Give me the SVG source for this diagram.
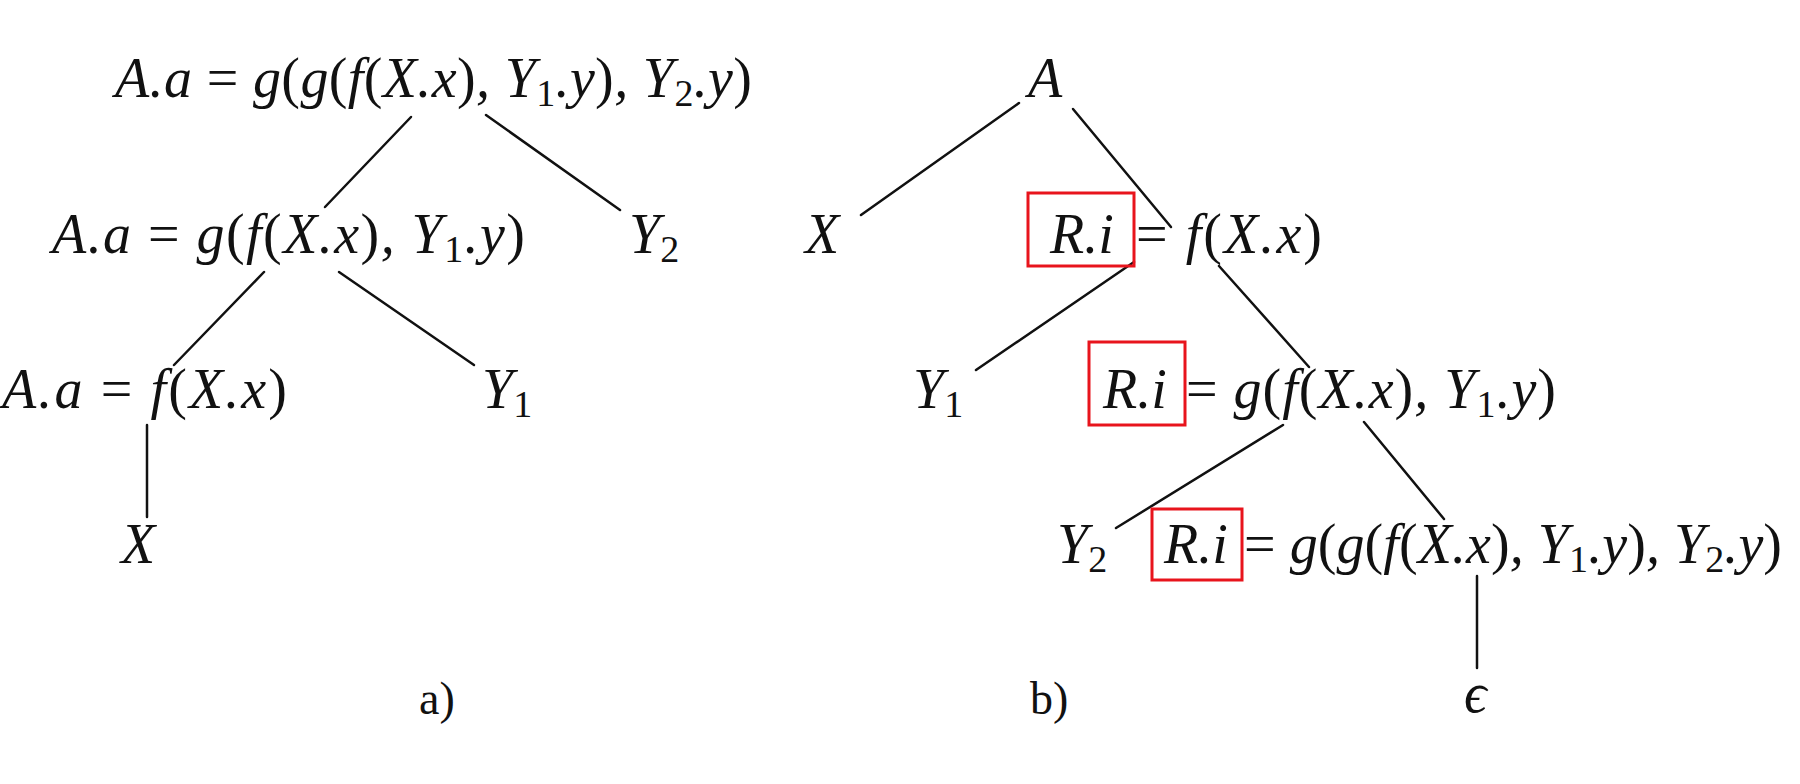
<svg xmlns="http://www.w3.org/2000/svg" width="1800" height="784" viewBox="0 0 1800 784">
<style>
.t { font-family: "Liberation Serif", "DejaVu Serif", serif; font-size: 56px; font-style: italic; fill: #111; }
.u { font-style: normal; }
.s { font-size: 38px; font-style: normal; }
.r { text-anchor: middle; }
.lbl { font-family: "Liberation Serif", "DejaVu Serif", serif; font-size: 46px; fill: #111; }
.e { stroke: #111; stroke-width: 2.5; fill: none; stroke-linecap: round; }
.box { stroke: #e8141c; stroke-width: 3; fill: none; }
</style>
<rect width="1800" height="784" fill="#fff"/>
<g id="connectors">
  <line class="e" x1="411" y1="117" x2="325" y2="207"/>
  <line class="e" x1="486" y1="115" x2="620" y2="210"/>
  <line class="e" x1="264" y1="272" x2="174" y2="365"/>
  <line class="e" x1="339" y1="272" x2="474" y2="365"/>
  <line class="e" x1="147" y1="425" x2="147" y2="517"/>
  <line class="e" x1="1019" y1="103" x2="861" y2="215"/>
  <line class="e" x1="1073" y1="109" x2="1171" y2="227"/>
  <line class="e" x1="1134" y1="262" x2="976" y2="370"/>
  <line class="e" x1="1219" y1="266" x2="1309" y2="367"/>
  <line class="e" x1="1283" y1="425" x2="1116" y2="528"/>
  <line class="e" x1="1364" y1="422" x2="1444" y2="519"/>
  <line class="e" x1="1477" y1="576" x2="1477" y2="668"/>
</g>
<g id="a-root"><text class="t" x="115" y="97" textLength="637" lengthAdjust="spacing">A.a <tspan class="u">=</tspan> g<tspan class="u">(</tspan>g<tspan class="u">(</tspan>f<tspan class="u">(</tspan>X.x<tspan class="u">)</tspan>, Y<tspan class="s" dy="9">1</tspan><tspan dy="-9">.y</tspan><tspan class="u">)</tspan>, Y<tspan class="s" dy="9">2</tspan><tspan dy="-9">.y</tspan><tspan class="u">)</tspan></text></g>
<g id="a-mid"><text class="t" x="52" y="253" textLength="473" lengthAdjust="spacing">A.a <tspan class="u">=</tspan> g<tspan class="u">(</tspan>f<tspan class="u">(</tspan>X.x<tspan class="u">)</tspan>, Y<tspan class="s" dy="9">1</tspan><tspan dy="-9">.y</tspan><tspan class="u">)</tspan></text></g>
<g id="a-y2"><text class="t" x="629" y="253">Y<tspan class="s" dy="9">2</tspan></text></g>
<g id="a-low"><text class="t" x="2" y="408" textLength="285" lengthAdjust="spacing">A.a <tspan class="u">=</tspan> f<tspan class="u">(</tspan>X.x<tspan class="u">)</tspan></text></g>
<g id="a-y1"><text class="t" x="482" y="408">Y<tspan class="s" dy="9">1</tspan></text></g>
<g id="a-x"><text class="t" x="121" y="563">X</text></g>
<g id="a-label"><text class="lbl" x="419" y="714">a)</text></g>
<g id="b-root"><text class="t" x="1028" y="97">A</text></g>
<g id="b-x"><text class="t" x="805" y="253">X</text></g>
<g id="b-r1"><rect class="box" x="1028" y="193" width="106" height="73"/><text class="t r" x="1082" y="253">R.i</text><text class="t" x="1136" y="253" textLength="186" lengthAdjust="spacing"><tspan class="u">=</tspan> f<tspan class="u">(</tspan>X.x<tspan class="u">)</tspan></text></g>
<g id="b-y1"><text class="t" x="913" y="408">Y<tspan class="s" dy="9">1</tspan></text></g>
<g id="b-r2"><rect class="box" x="1089" y="342" width="96" height="83"/><text class="t r" x="1135" y="408">R.i</text><text class="t" x="1186" y="408" textLength="370" lengthAdjust="spacing"><tspan class="u">=</tspan> g<tspan class="u">(</tspan>f<tspan class="u">(</tspan>X.x<tspan class="u">)</tspan>, Y<tspan class="s" dy="9">1</tspan><tspan dy="-9">.y</tspan><tspan class="u">)</tspan></text></g>
<g id="b-y2"><text class="t" x="1057" y="563">Y<tspan class="s" dy="9">2</tspan></text></g>
<g id="b-r3"><rect class="box" x="1152" y="509" width="90" height="71"/><text class="t r" x="1196" y="563">R.i</text><text class="t" x="1244" y="563" textLength="538" lengthAdjust="spacing"><tspan class="u">=</tspan> g<tspan class="u">(</tspan>g<tspan class="u">(</tspan>f<tspan class="u">(</tspan>X.x<tspan class="u">)</tspan>, Y<tspan class="s" dy="9">1</tspan><tspan dy="-9">.y</tspan><tspan class="u">)</tspan>, Y<tspan class="s" dy="9">2</tspan><tspan dy="-9">.y</tspan><tspan class="u">)</tspan></text></g>
<g id="b-eps"><text class="t" x="1464" y="712">ϵ</text></g>
<g id="b-label"><text class="lbl" x="1030" y="714">b)</text></g>
</svg>
